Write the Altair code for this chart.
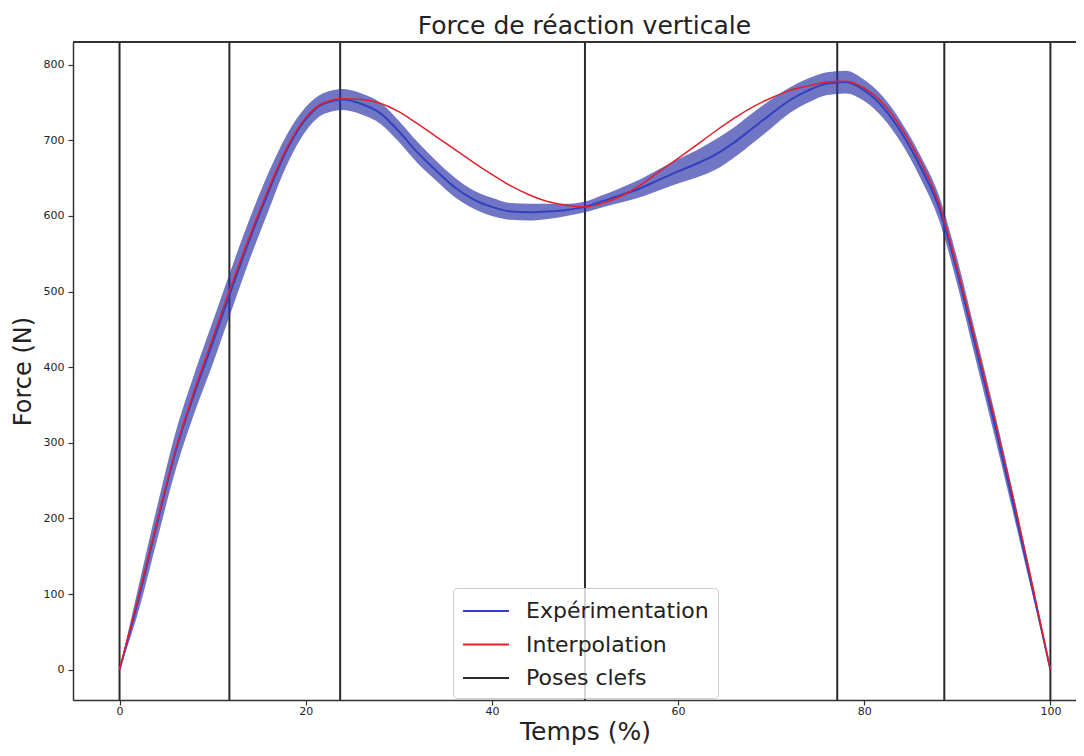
import altair as alt
import pandas as pd

# x positions (Temps %)
temps = list(range(0, 101, 2))

# Experimental mean force (N)
exp_mean = [0, 92, 192, 288, 364, 432, 502, 570, 632, 688,
            728, 749, 754, 748, 736, 712, 684, 660, 638, 622,
            612, 606, 605, 606, 608, 612, 620, 628, 637, 648,
            659, 669, 681, 697, 716, 735, 753, 766, 775, 777,
            766, 744, 710, 666, 612, 526, 426, 325, 220, 111, 0]

# Half width of experimental band (N)
exp_half = [0, 16, 22, 25, 26, 28, 28, 27, 25, 20,
            16, 14, 14, 14, 14, 14, 14, 13, 13, 12,
            12, 11, 11, 10, 8, 7, 8, 10, 12, 14,
            16, 18, 20, 20, 20, 19, 17, 16, 15, 15,
            14, 14, 14, 15, 16, 17, 17, 16, 13, 8, 0]

# Interpolated force (N)
interp = [0, 95, 194, 290, 368, 438, 508, 574, 636, 691,
          730, 750, 755, 754, 749, 738, 722, 705, 688, 671,
          655, 640, 628, 619, 614, 612, 617, 627, 641, 659,
          676, 694, 712, 729, 744, 756, 766, 772, 777, 778,
          769, 749, 716, 673, 618, 530, 432, 332, 228, 116, 0]

# Key poses (Temps %)
poses = [0, 11.8, 23.7, 50, 77.1, 88.6, 100]

series_names = ["Expérimentation", "Interpolation", "Poses clefs"]
series_colors = ["#3340c0", "#e3202a", "#2a2a2a"]

X_MIN, X_MAX = -5, 102.75
Y_MIN, Y_MAX = -40, 830

band_df = pd.DataFrame({
    "x": temps,
    "lower": [m - h for m, h in zip(exp_mean, exp_half)],
    "upper": [m + h for m, h in zip(exp_mean, exp_half)],
})
exp_df = pd.DataFrame({"x": temps, "y": exp_mean, "serie": series_names[0]})
int_df = pd.DataFrame({"x": temps, "y": interp, "serie": series_names[1]})
pose_df = pd.DataFrame({"x": poses, "serie": series_names[2]})

FONT = "DejaVu Sans"

xscale = alt.Scale(domain=[X_MIN, X_MAX], nice=False, zero=False)
yscale = alt.Scale(domain=[Y_MIN, Y_MAX], nice=False, zero=False)

color = alt.Color(
    "serie:N",
    scale=alt.Scale(domain=series_names, range=series_colors),
    legend=alt.Legend(
        orient="none", legendX=380, legendY=546, title=None,
        symbolType="M-1.77,0L1.77,0", symbolSize=676, symbolStrokeWidth=2,
        symbolOffset=10,
        labelFontSize=22, labelFont=FONT, labelColor="#222222",
        labelOffset=26, labelLimit=400, padding=9, rowPadding=8.5,
        strokeColor="#cccccc", fillColor="rgba(255,255,255,0.8)",
        cornerRadius=4,
    ),
)

xaxis = alt.Axis(title="Temps (%)", values=[0, 20, 40, 60, 80, 100], format="d",
                 titleX=512)
yaxis = alt.Axis(title="Force (N)", values=list(range(0, 801, 100)), format="d")

rules = alt.Chart(pose_df).mark_rule(strokeWidth=2).encode(
    x=alt.X("x:Q", scale=xscale, axis=xaxis),
    color=color,
)

band = alt.Chart(band_df).mark_area(
    color="#2c33a8", opacity=0.68, interpolate="monotone"
).encode(
    x=alt.X("x:Q", scale=xscale, axis=xaxis),
    y=alt.Y("lower:Q", scale=yscale, axis=yaxis),
    y2="upper:Q",
)

exp_line = alt.Chart(exp_df).mark_line(strokeWidth=2, interpolate="monotone").encode(
    x=alt.X("x:Q", scale=xscale, axis=xaxis),
    y=alt.Y("y:Q", scale=yscale, axis=yaxis),
    color=color,
)

int_line = alt.Chart(int_df).mark_line(strokeWidth=1.5, interpolate="monotone").encode(
    x=alt.X("x:Q", scale=xscale, axis=xaxis),
    y=alt.Y("y:Q", scale=yscale, axis=yaxis),
    color=color,
)

# top frame line (the right frame edge lies outside the cropped picture)
top_frame = alt.Chart(pose_df).mark_rule(color="#333333", strokeWidth=1.5).encode(
    y=alt.Y(datum=Y_MAX, scale=yscale, axis=yaxis),
)

chart = alt.layer(rules, band, exp_line, int_line, top_frame).properties(
    width=1003, height=658,
    background="white",
    autosize=alt.AutoSizeParams(type="none"),
    padding={"left": 65, "top": 34, "right": 0, "bottom": 45},
    title=alt.TitleParams(
        "Force de réaction verticale", fontSize=25, font=FONT,
        fontWeight="normal", color="#222222", anchor="middle", offset=2, dx=10,
    ),
).configure_view(
    stroke=None
).configure_axis(
    grid=False, domainColor="#333333", domainWidth=1.5,
    tickColor="#333333", tickSize=5, tickWidth=1.2,
    labelFont=FONT, labelFontSize=11, labelColor="#222222", labelPadding=4,
    titleFont=FONT, titleFontSize=24, titleFontWeight="normal", titleColor="#222222",
).configure_axisY(
    titlePadding=8
).configure_axisX(
    titlePadding=3, labelPadding=0, titleFontSize=25
)

chart.save("out.html", embed_options={"renderer": "svg", "actions": False})
